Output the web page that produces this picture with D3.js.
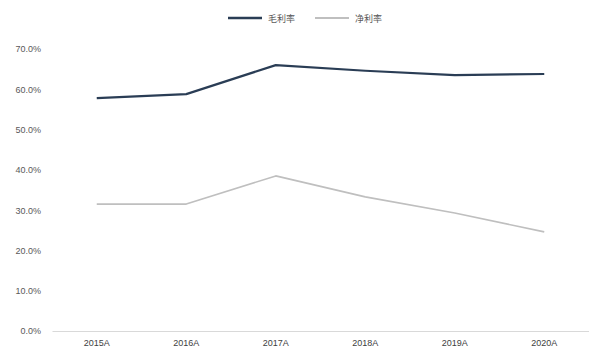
<!DOCTYPE html>
<html>
<head>
<meta charset="utf-8">
<script src="https://cdn.jsdelivr.net/npm/d3@7/dist/d3.min.js"></script>
<style>
  html, body { margin: 0; padding: 0; background: #fff; }
  svg { display: block; font-family: "Noto Sans CJK SC", "DejaVu Sans", sans-serif; }
</style>
</head>
<body>
<svg id="chart" width="589" height="352"></svg>
<script>
// Fiscal years on the x axis
const years = ["2015A", "2016A", "2017A", "2018A", "2019A", "2020A"];
// Gross margin (%)
const grossMargin = [57.8, 58.8, 66.0, 64.6, 63.5, 63.8];
// Net margin (%)
const netMargin = [31.5, 31.5, 38.5, 33.3, 29.3, 24.6];
// Y tick values (%)
const yTicks = [0, 10, 20, 30, 40, 50, 60, 70];
const seriesNames = ["毛利率", "净利率"];

const svg = d3.select("#chart");
const margin = { left: 52, right: 0, top: 49, bottom: 21 };
const W = 589, H = 352;

const x = d3.scaleBand().domain(years).range([margin.left, W - margin.right]);
const y = d3.scaleLinear().domain([0, 70]).range([H - margin.bottom, margin.top]);

// Y axis labels (no line, no ticks)
const yAxis = d3.axisLeft(y).tickValues(yTicks).tickSize(0).tickPadding(0)
  .tickFormat(d => d.toFixed(1) + "%");
svg.append("g").attr("transform", `translate(${margin.left - 11},0)`).call(yAxis)
  .call(g => g.select(".domain").remove())
  .selectAll("text").attr("fill", "#595959").style("font-size", "9px")
  .style("font-family", "Liberation Sans, Arial, sans-serif");

// X axis baseline and labels
const xAxis = d3.axisBottom(x).tickSize(0).tickPadding(9);
svg.append("g").attr("transform", `translate(0,${y(0)})`).call(xAxis)
  .call(g => g.select(".domain").attr("stroke", "#d9d9d9"))
  .selectAll("text").attr("fill", "#404040").style("font-size", "9px")
  .style("font-family", "Liberation Sans, Arial, sans-serif");

const line = d3.line()
  .x((d, i) => x(years[i]) + x.bandwidth() / 2)
  .y(d => y(d));

const colors = ["#2a3d55", "#bfbfbf"];
const widths = [2.2, 1.6];
[grossMargin, netMargin].forEach((s, k) => {
  svg.append("path").datum(s).attr("d", line)
    .attr("fill", "none").attr("stroke", colors[k]).attr("stroke-width", widths[k])
    .attr("stroke-linejoin", "round");
});

// Legend
const legendX = [228, 315];
seriesNames.forEach((name, k) => {
  const g = svg.append("g").attr("transform", `translate(${legendX[k]},18)`);
  g.append("line").attr("x1", 0).attr("x2", 34).attr("y1", 0).attr("y2", 0)
    .attr("stroke", colors[k]).attr("stroke-width", widths[k] + 0.4);
  g.append("text").attr("x", 40).attr("y", 3.5).text(name)
    .attr("fill", "#595959").style("font-size", "9px");
});
</script>
</body>
</html>
